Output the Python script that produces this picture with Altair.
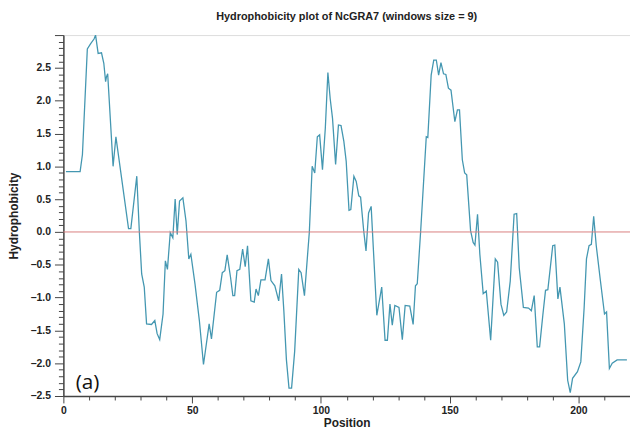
import altair as alt
import pandas as pd

positions = [1, 6.5, 7.4, 9.3, 10.6, 11.9, 12.5, 13.5, 14.8, 15.7, 16.4, 16.7, 17.2, 19.3, 20.4,
             25.3, 26.2, 28.5, 29.5, 30.4, 31.4, 32.3, 34.2, 35.5, 36.4, 37.4, 38.7, 39.6, 40.4,
             41.5, 42.5, 43.4, 44.2, 45.1, 46.4, 47.6, 48.7, 49.5, 51.1, 52.8, 54.4, 56.6, 57.5,
             59.5, 60.7, 61.7, 62.7, 63.6, 64.9, 65.8, 66.5, 67.4, 68.5, 69.6, 70.6, 71.5, 72.8,
             74.1, 74.8, 75.7, 76.7, 78.3, 79.6, 80.6, 82.1, 83.6, 84.7, 85.6, 86.6, 87.6, 88.6,
             89.8, 91.4, 92.3, 93.6, 95.5, 96.6, 97.6, 98.6, 99.5, 100.6, 101.7, 102.7, 103.6,
             104.5, 105.7, 106.8, 107.8, 108.9, 109.8, 110.9, 111.6, 112.8, 113.7, 114.7, 115.4,
             116.6, 117.5, 118.5, 119.5, 120.4, 121.7, 123.6, 124.9, 125.8, 126.8, 127.7, 128.7,
             130.3, 131.6, 132.7, 134.5, 135.8, 136.7, 137.4, 138.7, 140.9, 141.5, 142.8, 143.8,
             144.8, 145.7, 146.6, 147.6, 148.5, 149.5, 150.5, 152.0, 153.0, 153.8, 154.9, 155.8,
             156.6, 158.1, 159.1, 159.8, 160.8, 161.7, 163.0, 164.2, 165.9, 167.7, 168.6, 169.9,
             171.0, 172.1, 173.5, 175.0, 176.0, 177.0, 178.6, 180.6, 181.7, 182.8, 184.0, 184.9,
             186.2, 187.2, 188.1, 190.0, 190.8, 192.0, 192.8, 194.5, 195.8, 196.8, 197.7, 199.6,
             200.9, 202.2, 203.1, 204.1, 205.0, 205.9, 206.9, 208.5, 210.1, 210.9, 212.0, 213.1,
             215.0, 218.8]

hydro = [0.92, 0.92, 1.18, 2.79, 2.87, 2.94, 3.0, 2.72, 2.73, 2.57, 2.29, 2.36, 2.41, 1.0, 1.45,
         0.05, 0.05, 0.85, 0.0, -0.64, -0.84, -1.40, -1.41, -1.35, -1.55, -1.64, -1.25, -0.44, -0.57,
         -0.01, -0.09, 0.5, -0.04, 0.47, 0.52, 0.17, -0.41, -0.34, -0.79, -1.35, -2.02, -1.40, -1.63,
         -0.92, -0.89, -0.62, -0.59, -0.35, -0.69, -0.97, -0.97, -0.59, -0.57, -0.26, -0.53, -0.21, -1.05,
         -1.07, -0.87, -0.97, -0.73, -0.73, -0.41, -0.74, -0.82, -1.05, -0.64, -1.2, -1.95, -2.38, -2.38,
         -1.82, -0.57, -0.62, -0.97, 0.0, 1.0, 0.9, 1.45, 1.48, 0.95, 1.58, 2.43, 2.03,
         1.73, 1.03, 1.63, 1.62, 1.38, 1.08, 0.33, 0.34, 0.85, 0.77, 0.55, 0.53,
         0.02, -0.29, 0.29, 0.39, -0.29, -1.27, -0.84, -1.65, -1.65, -1.10, -1.42, -1.12,
         -1.15, -1.64, -1.12, -1.13, -1.41, -0.82, -0.79, 0.0, 1.45, 1.44, 2.39, 2.62,
         2.62, 2.39, 2.58, 2.41, 2.40, 2.19, 2.16, 1.68, 1.86, 1.86, 1.10, 0.90,
         0.87, 0.02, -0.16, -0.20, 0.27, -0.34, -0.94, -0.90, -1.65, -0.41, -0.46, -1.10,
         -1.27, -1.22, -0.75, 0.27, 0.28, -0.55, -1.15, -1.16, -1.2, -0.97, -1.75, -1.75,
         -1.25, -0.89, -0.88, -0.21, -0.20, -1.02, -0.84, -1.40, -2.26, -2.45, -2.23, -2.13,
         -1.98, -1.15, -0.41, -0.21, -0.19, 0.24, -0.21, -0.74, -1.25, -1.22, -2.08, -2.0,
         -1.95, -1.95]

y_tick_values = [round(-2.5 + 0.1 * i, 1) for i in range(56)]
x_tick_values = list(range(0, 220, 10))

label_pos = [9.4]
label_val = [-2.30]
label_txt = ["(a)"]

df = pd.DataFrame({"Position": positions, "Hydrophobicity": hydro})
lab = pd.DataFrame({"Position": label_pos, "Hydrophobicity": label_val, "t": label_txt})
zero = pd.DataFrame({"Hydrophobicity": [0.0]})

axis_color = "#444444"
font = "Liberation Sans"

x_scale = alt.Scale(domain=[0, 220], nice=False, zero=False)
y_scale = alt.Scale(domain=[-2.5, 3.0], nice=False, zero=False)

x_axis = alt.Axis(
    values=x_tick_values,
    labelExpr="datum.value % 50 == 0 ? datum.label : ''",
    tickSize={"condition": {"test": "datum.value % 50 == 0", "value": 7}, "value": 4},
    grid=False, labelFont=font, labelFontSize=10.5, labelFontWeight="bold", labelColor="#222",
    titleFont=font, titleFontSize=12, titleFontWeight="bold", titleColor="#222",
    domainColor=axis_color, domainWidth=1.5, tickColor=axis_color, tickWidth=1,
    labelPadding=3, titlePadding=1, labelOverlap=False, labelFlush=False,
)
y_axis = alt.Axis(
    values=y_tick_values,
    labelExpr="(abs(datum.value*2 - round(datum.value*2)) < 0.001 && datum.value < 2.9) ? format(datum.value, '.1f') : ''",
    tickSize={"condition": {"test": "abs(datum.value*2 - round(datum.value*2)) < 0.001", "value": 9}, "value": 5},
    grid=False, labelFont=font, labelFontSize=10.5, labelFontWeight="bold", labelColor="#222",
    titleFont=font, titleFontSize=12, titleFontWeight="bold", titleColor="#222",
    domainColor=axis_color, domainWidth=1.5, tickColor=axis_color, tickWidth=1,
    labelPadding=4, titlePadding=10, labelOverlap=False, labelFlush=False,
)

X = alt.X("Position:Q", scale=x_scale, axis=x_axis, title="Position")
Y = alt.Y("Hydrophobicity:Q", scale=y_scale, axis=y_axis, title="Hydrophobicity")

line = alt.Chart(df).mark_line(color="#4497b1", strokeWidth=1.3, clip=True).encode(x=X, y=Y)

rule = alt.Chart(zero).mark_rule(color="#d98080", strokeWidth=1).encode(y=Y)

text = alt.Chart(lab).mark_text(font="Open Sans", fontSize=21, color="#111", align="center",
                                baseline="middle").encode(x=X, y=Y, text="t:N")

chart = alt.layer(line, rule, text).properties(
    width=573, height=365,
    title=alt.TitleParams("Hydrophobicity plot of NcGRA7 (windows size = 9)", font=font,
                          fontSize=11, fontWeight="bold", color="#222", offset=8),
    autosize=alt.AutoSizeParams(type="none"),
    padding={"left": 56, "top": 25, "right": 0, "bottom": 34},
).configure_view(stroke="#999999", strokeWidth=1.5).configure(background="white")

chart.save("out.html", embed_options={"renderer": "svg", "actions": False})
